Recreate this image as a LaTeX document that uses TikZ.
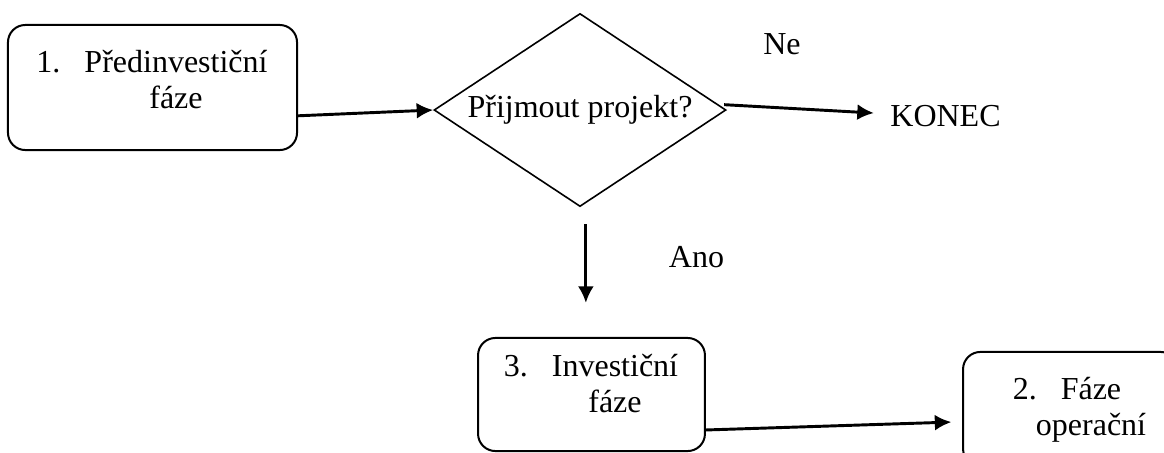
\documentclass[tikz,border=0pt]{standalone}
\usepackage{fontspec}
\setmainfont{Liberation Serif}
\usetikzlibrary{shapes.geometric,arrows.meta}

\newcommand\phasefont{\fontsize{12}{13.5}\selectfont}
\newcommand\phasenum[1]{\llap{\makebox[18pt][l]{#1}}}
\tikzset{
  phase/.style={draw, line width=0.75pt, rounded corners=6.5pt, inner sep=0pt},
  phasetext/.style={align=center, inner sep=0pt, font=\phasefont},
  decision/.style={draw, diamond, aspect=1.5, line width=0.6pt, inner sep=0pt, font=\phasefont},
  answer/.style={inner sep=0pt, font=\phasefont},
  flow/.style={line width=1.1pt, -{Latex[length=6.2pt,width=6pt]}}
}

\begin{document}
\begin{tikzpicture}[x=0.375pt,y=-0.375pt]
  \clip (0,0) rectangle (1164,452);
  % phases
  \node[phase, minimum width=108.4pt, minimum height=46.9pt] (p1) at (152.5,87.5) {};
  \node[phase, minimum width=85.1pt, minimum height=42.4pt] (p3) at (591.5,394.5) {};
  \node[phase, minimum width=80.6pt, minimum height=42.8pt] (p2) at (1070.5,409) {};
  \node[phasetext] (t1) at (176,80) {\phasenum{1.}Předinvestiční\\fáze};
  \node[phasetext] (t3) at (615,384) {\phasenum{3.}Investiční\\fáze};
  \node[phasetext] (t2) at (1091,409.5) {\phasenum{2.}Fáze\\operační};
  % decision
  \node[decision, minimum width=109.5pt, minimum height=72.4pt] (q) at (580,110) {Přijmout projekt?};
  \node[answer, inner sep=6pt] (konec) at (945.5,116.5) {KONEC};
  \node[answer] (ne) at (782,44.5) {Ne};
  \node[answer] (ano) at (696.5,257.5) {Ano};
  \coordinate (anotop) at ([xshift=2.2pt,yshift=-6.4pt]q.south);
  \coordinate (anoend) at (anotop |- p3.north);
  % connectors
  \draw[flow] (p1.-11) -- (q.west);
  \draw[flow] ([xshift=-1pt,yshift=2pt]q.east) -- ([yshift=1.3pt]konec.west);
  \draw[flow, shorten >=12.8pt] (anotop) -- (anoend);
  \draw[flow] ([yshift=-13.3pt]p3.east) -- ([xshift=-4pt,yshift=-4.9pt]p2.west);
\end{tikzpicture}
\end{document}
